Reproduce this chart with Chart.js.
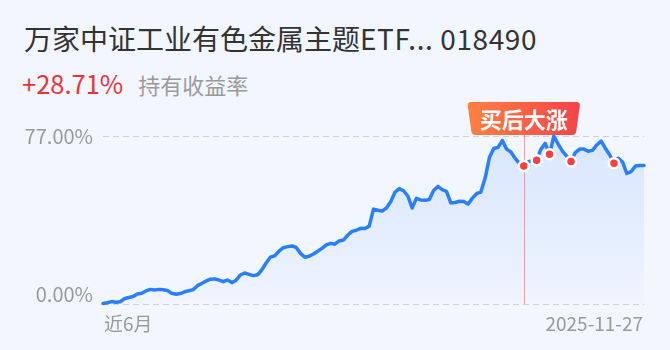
<!DOCTYPE html>
<html>
<head>
<meta charset="utf-8">
<script src="https://cdn.jsdelivr.net/npm/chart.js@4.4.1/dist/chart.umd.min.js"></script>
<style>
    html, body { margin: 0; padding: 0; background: #f2f6fe; }
    body { width: 670px; height: 350px; position: relative; overflow: hidden; font-family: "Noto Sans CJK SC", sans-serif; }
    #title { position: absolute; left: 24px; top: 24px; font-size: 28px; line-height: 28px; color: #333; white-space: nowrap; }
    #title .code { letter-spacing: 0.6px; }
    #sub { position: absolute; left: 22px; top: 70px; line-height: 25px; white-space: nowrap; }
    #sub .rate { font-size: 25.5px; color: #e8343a; }
    #sub .lbl { font-size: 22px; color: #9a9a9a; margin-left: 15px; }
    #wrap { position: absolute; left: 0; top: 0; width: 670px; height: 350px; }
</style>
</head>
<body>
<div id="title">万家中证工业有色金属主题<span class="code">ETF... 018490</span></div>
<div id="sub"><span class="rate">+28.71%</span><span class="lbl">持有收益率</span></div>
<div id="wrap"><canvas id="line_chart"></canvas></div>

<script>
// holding return (%) over the last 6 months, one value per trading day
var returnValues = [
    0.2, 0.55, 1.1, 0.8, 1.05, 2.4, 3.0, 3.4, 4.6, 4.9,
    6.0, 6.7, 6.4, 6.7, 6.5, 6.2, 4.95, 4.5, 4.8, 5.6,
    6.1, 6.6, 8.4, 9.4, 10.5, 11.4, 11.5, 11.0, 10.2, 11.0,
    9.8, 10.9, 13.3, 14.2, 13.6, 13.0, 13.4, 15.7, 18.8, 21.5,
    22.1, 24.2, 25.8, 26.3, 26.6, 25.9, 23.2, 21.4, 21.9, 22.9,
    24.2, 25.5, 27.1, 27.8, 27.4, 28.9, 29.3, 31.6, 33.3, 33.8,
    34.7, 34.6, 35.7, 43.5, 43.0, 42.6, 44.0, 46.9, 51.2, 52.9,
    51.9, 49.5, 44.0, 48.4, 47.7, 47.5, 47.9, 52.0, 53.9, 52.4,
    51.6, 46.3, 46.5, 47.1, 47.0, 45.8, 48.4, 50.6, 51.3, 57.7,
    67.1, 71.3, 71.8, 74.9, 71.0, 69.7, 66.7, 64.4, 63.25, 65.1,
    65.8, 65.9, 71.0, 73.6, 68.6, 77.0, 73.3, 70.1, 67.8, 65.3,
    69.4, 71.0, 71.0, 70.0, 70.4, 72.9, 74.7, 71.4, 68.4, 64.5,
    66.8, 65.1, 59.8, 60.7, 63.25, 63.5, 63.5
];
var categories = returnValues.map(function (v, i) { return i; });
var buyIndex = [98, 101, 104, 109, 119];
var buyBadge = "买后大涨";
var yTickValues = [77, 0];
var yTickLabels = ["77.00%", "0.00%"];
var xTickLabels = ["近6月", "2025-11-27"];

var FONT = '"Noto Sans CJK SC", sans-serif';

var decorations = {
    id: 'decorations',
    beforeDatasetsDraw: function (chart) {
        var ctx = chart.ctx, a = chart.chartArea, x = chart.scales.x, y = chart.scales.y;
        ctx.save();
        // dashed grid
        ctx.setLineDash([6, 4]);
        ctx.strokeStyle = '#cdd1d8';
        ctx.lineWidth = 1;
        yTickValues.forEach(function (v) {
            var py = Math.round(y.getPixelForValue(v)) + 0.5;
            ctx.beginPath();
            ctx.moveTo(a.left, py);
            ctx.lineTo(a.right, py);
            ctx.stroke();
        });
        ctx.setLineDash([]);

        // buy marker line
        var bx = Math.round(x.getPixelForValue(buyIndex[0])) + 0.5;
        ctx.strokeStyle = 'rgba(240, 90, 90, 0.55)';
        ctx.beginPath();
        ctx.moveTo(bx, a.top - 1);
        ctx.lineTo(bx, a.bottom);
        ctx.stroke();

        // axis labels
        ctx.fillStyle = '#9a9a9a';
        ctx.textBaseline = 'alphabetic';
        ctx.font = '20px ' + FONT;
        ctx.textAlign = 'right';
        ctx.fillText(yTickLabels[0], a.left - 10, y.getPixelForValue(yTickValues[0]) + 8);
        ctx.fillText(yTickLabels[1], a.left - 10, y.getPixelForValue(yTickValues[1]) - 2);
        ctx.font = '19px ' + FONT;
        ctx.textAlign = 'left';
        ctx.fillText(xTickLabels[0], a.left + 1, a.bottom + 27);
        ctx.textAlign = 'right';
        ctx.fillText(xTickLabels[1], a.right - 1, a.bottom + 27);
        ctx.restore();
    },
    afterDatasetsDraw: function (chart) {
        var ctx = chart.ctx, a = chart.chartArea, x = chart.scales.x;
        var cx = x.getPixelForValue(buyIndex[0]);
        var top = a.top - 34, bottom = a.top - 1;
        var wt = 56.5, wb = 52.5, r = 4;
        ctx.save();
        var g = ctx.createLinearGradient(cx - wt, 0, cx + wt, 0);
        g.addColorStop(0, '#ff8143');
        g.addColorStop(1, '#f4434a');
        ctx.fillStyle = g;
        ctx.beginPath();
        ctx.moveTo(cx - wt + r, top);
        ctx.lineTo(cx + wt - r, top);
        ctx.quadraticCurveTo(cx + wt, top, cx + wt - 0.5, top + r);
        ctx.lineTo(cx + wb, bottom - r);
        ctx.quadraticCurveTo(cx + wb - 0.5, bottom, cx + wb - r, bottom);
        ctx.lineTo(cx - wb + r, bottom);
        ctx.quadraticCurveTo(cx - wb + 0.5, bottom, cx - wb, bottom - r);
        ctx.lineTo(cx - wt + 0.5, top + r);
        ctx.quadraticCurveTo(cx - wt, top, cx - wt + r, top);
        ctx.closePath();
        ctx.fill();
        ctx.fillStyle = '#fff';
        ctx.font = 'bold 22px ' + FONT;
        ctx.textAlign = 'center';
        ctx.textBaseline = 'middle';
        ctx.fillText(buyBadge, cx, (top + bottom) / 2 + 1);
        ctx.restore();
    }
};

new Chart(document.getElementById("line_chart").getContext("2d"), {
    type: 'line',
    data: {
        labels: categories,
        datasets: [{
            label: "持有收益率",
            data: returnValues,
            borderColor: '#2a7fff',
            borderWidth: 3.5,
            borderJoinStyle: 'round',
            borderCapStyle: 'round',
            tension: 0,
            fill: 'origin',
            backgroundColor: function (context) {
                var a = context.chart.chartArea;
                if (!a) return 'rgba(42, 127, 255, 0.1)';
                var g = context.chart.ctx.createLinearGradient(0, a.top, 0, a.bottom);
                g.addColorStop(0, 'rgba(42, 127, 255, 0.13)');
                g.addColorStop(1, 'rgba(42, 127, 255, 0.01)');
                return g;
            },
            pointRadius: function (c) { return buyIndex.indexOf(c.dataIndex) >= 0 ? 5 : 0; },
            pointHoverRadius: 0,
            pointBackgroundColor: '#f5403d',
            pointBorderColor: '#ffffff',
            pointBorderWidth: 2.5,
            clip: false
        }]
    },
    options: {
        responsive: true,
        maintainAspectRatio: false,
        animation: false,
        layout: { padding: { left: 103, right: 26, top: 136, bottom: 46 } },
        scales: {
            x: { display: false },
            y: { display: false, min: 0, max: 77 }
        },
        plugins: { legend: { display: false }, tooltip: { enabled: false } },
        events: []
    },
    plugins: [decorations]
});
</script>
</body>
</html>
